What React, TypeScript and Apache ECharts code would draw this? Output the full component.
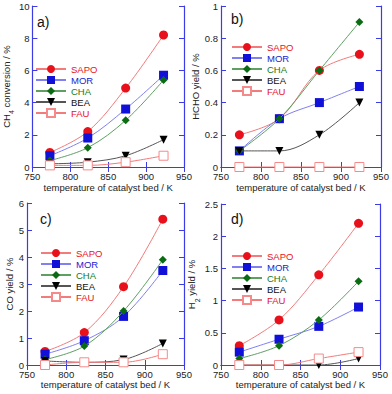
import React, { useEffect, useRef } from "react";
import * as echarts from "echarts";

const temps = [773, 823, 873, 923];
const seriesNames = ["SAPO", "MOR", "CHA", "BEA", "FAU"];

// Panel a: CH4 conversion / %
const aSAPO = [0.9, 2.2, 4.9, 8.2];
const aMOR = [0.7, 1.8, 3.6, 5.7];
const aCHA = [0.4, 1.2, 2.9, 5.4];
const aBEA = [0.2, 0.3, 0.7, 1.7];
const aFAU = [0.1, 0.1, 0.3, 0.7];

// Panel b: HCHO yield / %
const bSAPO = [0.2, 0.3, 0.6, 0.7];
const bMOR = [0.1, 0.3, 0.4, 0.5];
const bCHA = [0.1, 0.3, 0.6, 0.9];
const bBEA = [0.1, 0.1, 0.2, 0.4];
const bFAU = [0, 0, 0, 0];

// Panel c: CO yield / %
const cSAPO = [0.5, 1.2, 2.9, 5.4];
const cMOR = [0.4, 0.9, 1.8, 3.5];
const cCHA = [0.2, 0.7, 2.0, 3.9];
const cBEA = [0.15, 0.1, 0.2, 0.8];
const cFAU = [0, 0.1, 0.1, 0.4];

// Panel d: H2 yield / %
const dSAPO = [0.3, 0.7, 1.4, 2.2];
const dMOR = [0.2, 0.4, 0.6, 0.9];
const dCHA = [0.1, 0.3, 0.7, 1.3];
const dBEA = [0, 0, 0, 0.1];
const dFAU = [0, 0, 0.1, 0.2];

const panelData = [
  [aSAPO, aMOR, aCHA, aBEA, aFAU],
  [bSAPO, bMOR, bCHA, bBEA, bFAU],
  [cSAPO, cMOR, cCHA, cBEA, cFAU],
  [dSAPO, dMOR, dCHA, dBEA, dFAU],
];

const panelLabels = ["a)", "b)", "c)", "d)"];
const yNames = [
  "{t|CH}{s|4}{t| conversion / %}",
  "{t|HCHO yield / %}",
  "{t|CO yield / %}",
  "{t|H}{s|2}{t| yield / %}",
];
const yMax = [10, 1, 6, 2.5];
const yInterval = [2, 0.2, 1, 0.5];
const xName = "temperature of catalyst bed / K";
const xMin = 750;
const xMax = 950;
const xInterval = 50;

const FRAME = "#3c3ce6";
const TEXT = "#222";
const FONT = "Liberation Sans, Arial, sans-serif";

const styles: Record<string, any> = {
  SAPO: { symbol: "circle", size: 9, fill: "#e8111b", border: "#e8111b", line: "#f27b7b", text: "#e8111b" },
  MOR: { symbol: "rect", size: 9, fill: "#1010d8", border: "#1010d8", line: "#8080f0", text: "#1b1bd0" },
  CHA: { symbol: "diamond", size: 8, fill: "#0b6b12", border: "#0b6b12", line: "#5f9f62", text: "#137a1b" },
  BEA: { symbol: "path://M0 0L10 0L5 8.66Z", size: 8, fill: "#000", border: "#000", line: "#555", text: "#111" },
  FAU: { symbol: "rect", size: 9, fill: "#fff", border: "#f58a8a", line: "#f27b7b", text: "#e8111b" },
};

const grids = [
  { left: 23, top: 6, width: 161, height: 161 },
  { left: 221, top: 6, width: 160, height: 161 },
  { left: 27, top: 203, width: 157, height: 162 },
  { left: 221, top: 204, width: 159, height: 161 },
];
const legendPos = [
  { left: 35, top: 64 },
  { left: 231, top: 42 },
  { left: 40, top: 248 },
  { left: 231, top: 251 },
];
const labelPos = [
  { x: 37, y: 23 },
  { x: 231, y: 20 },
  { x: 40, y: 220 },
  { x: 231, y: 220 },
];

function buildOption() {
  const xAxis: any[] = [];
  const yAxis: any[] = [];
  const series: any[] = [];
  const legend: any[] = [];
  const graphic: any[] = [];

  grids.forEach((g, i) => {
    const tick = { show: true, inside: true, length: 5, lineStyle: { color: FRAME, width: 1 } };
    const line = { show: true, lineStyle: { color: FRAME, width: 1.2 } };
    xAxis.push({
      gridIndex: i,
      type: "value",
      min: xMin,
      max: xMax,
      interval: xInterval,
      position: "bottom",
      axisLine: line,
      axisTick: tick,
      splitLine: { show: false },
      axisLabel: { color: TEXT, fontSize: 9.5, fontFamily: FONT, margin: 4 },
      name: xName,
      nameLocation: "middle",
      nameGap: i < 2 ? 15 : 13,
      nameTextStyle: { color: TEXT, fontSize: 9.5, fontFamily: FONT },
    });
    xAxis.push({
      gridIndex: i,
      type: "value",
      min: xMin,
      max: xMax,
      interval: xInterval,
      position: "top",
      axisLine: line,
      axisTick: tick,
      splitLine: { show: false },
      axisLabel: { show: false },
    });
    yAxis.push({
      gridIndex: i,
      type: "value",
      min: 0,
      max: yMax[i],
      interval: yInterval[i],
      position: "left",
      axisLine: line,
      axisTick: tick,
      splitLine: { show: false },
      axisLabel: { color: TEXT, fontSize: 9.5, fontFamily: FONT, margin: 3 },
      name: yNames[i],
      nameLocation: "middle",
      nameGap: i % 2 === 0 ? 12 : 17,
      nameTextStyle: {
        color: TEXT,
        fontFamily: FONT,
        rich: {
          t: { fontSize: 9.5, color: TEXT, fontFamily: FONT, lineHeight: 12 },
          s: { fontSize: 7, color: TEXT, fontFamily: FONT, verticalAlign: "bottom", lineHeight: 8, padding: [0, 0, -3, 0] },
        },
      },
    });
    yAxis.push({
      gridIndex: i,
      type: "value",
      min: 0,
      max: yMax[i],
      interval: yInterval[i],
      position: "right",
      axisLine: line,
      axisTick: tick,
      splitLine: { show: false },
      axisLabel: { show: false },
    });

    seriesNames.forEach((name, k) => {
      const st = styles[name];
      const vals = panelData[i][k];
      series.push({
        type: "line",
        name,
        xAxisIndex: 2 * i,
        yAxisIndex: 2 * i,
        data: temps.map((t, j) => [t, vals[j]]),
        smooth: 0.35,
        symbol: st.symbol,
        symbolSize: st.size,
        showAllSymbol: true,
        clip: false,
        lineStyle: { color: st.line, width: 1 },
        itemStyle: { color: st.fill, borderColor: st.border, borderWidth: name === "FAU" ? 1 : 0, opacity: 1 },
        emphasis: { disabled: true },
        z: 2 + k,
      });
    });

    legend.push({
      orient: "vertical",
      left: legendPos[i].left,
      top: legendPos[i].top,
      padding: 0,
      itemWidth: 30,
      itemHeight: 10,
      itemGap: 1,
      selectedMode: false,
      textStyle: { fontSize: 9.5, fontFamily: FONT },
      data: seriesNames.map((n) => ({ name: n, textStyle: { color: styles[n].text } })),
    });

    graphic.push({
      type: "text",
      left: labelPos[i].x,
      top: labelPos[i].y - 8,
      style: { text: panelLabels[i], fontSize: 14, fontFamily: FONT, fill: "#111" },
    });
  });

  return {
    animation: false,
    backgroundColor: "#fff",
    grid: grids.map((g) => ({ ...g, show: false })),
    xAxis,
    yAxis,
    series,
    legend,
    graphic,
  };
}

export default function App() {
  const ref = useRef<HTMLDivElement>(null);
  useEffect(() => {
    if (!ref.current) return;
    const chart = echarts.init(ref.current, undefined, { renderer: "svg" });
    chart.setOption(buildOption() as any);
    return () => chart.dispose();
  }, []);
  return (
    <div
      ref={ref}
      style={{ position: "fixed", left: 0, top: 0, width: 392, height: 394, background: "#fff" }}
    />
  );
}
